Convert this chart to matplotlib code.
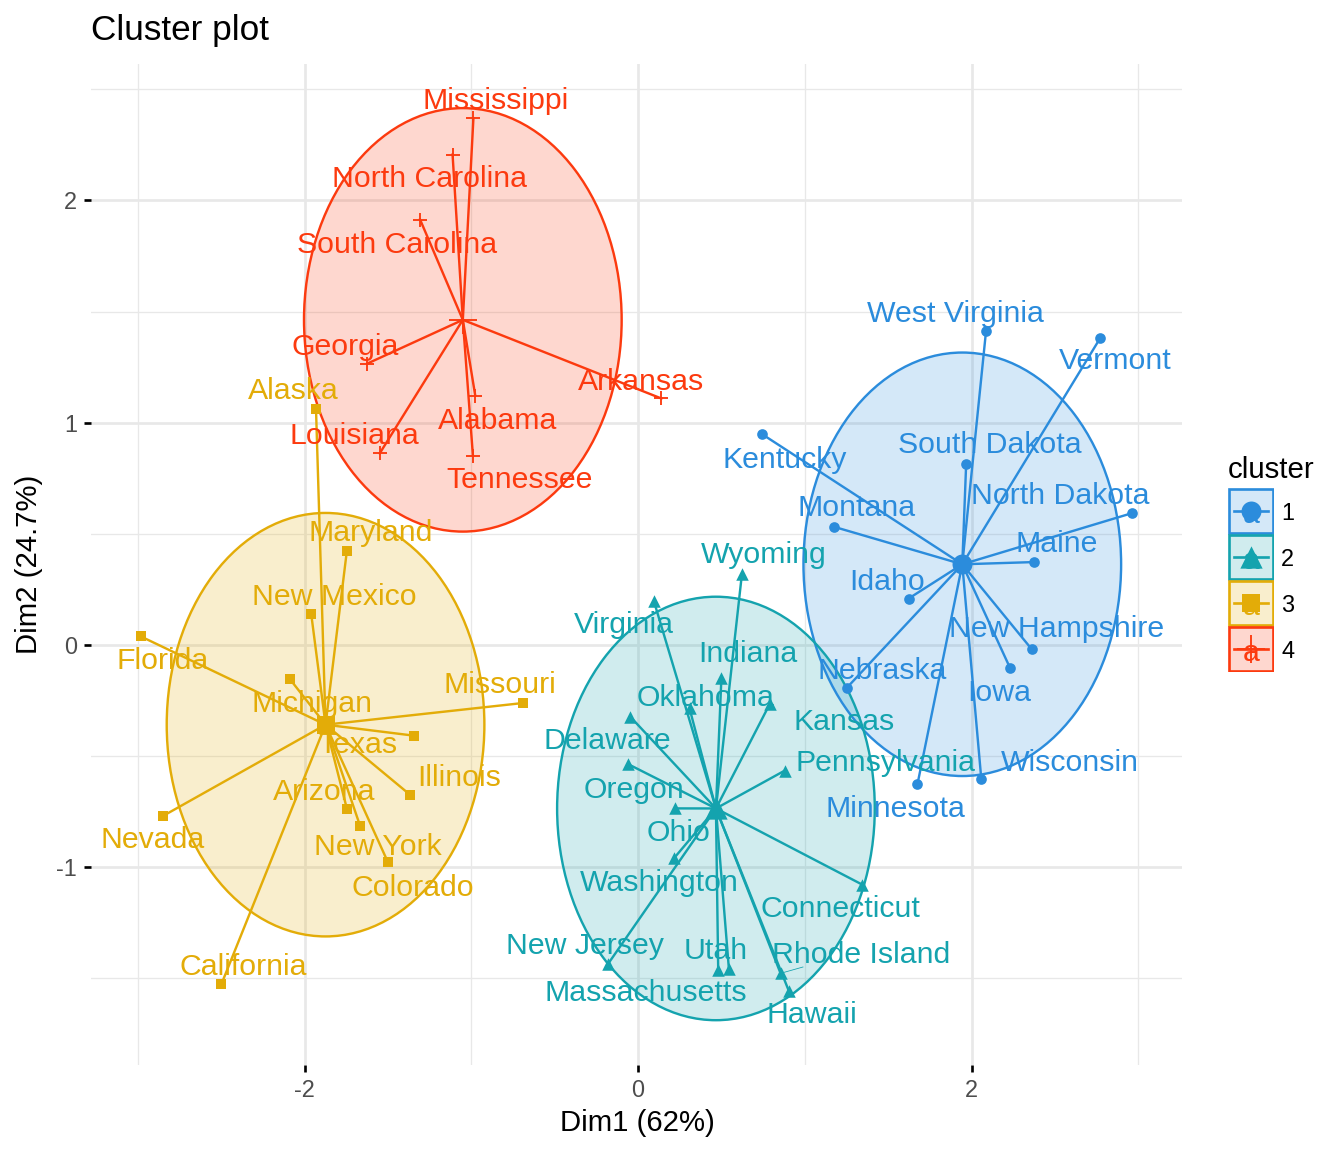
##### Import modules #####
import numpy as np
import matplotlib.pyplot as plt
from matplotlib.patches import Ellipse, Rectangle

plt.rcParams['font.family'] = ['Liberation Sans', 'DejaVu Sans']

##### Data #####
states_1 = ['West Virginia', 'Vermont', 'South Dakota', 'Kentucky', 'North Dakota', 'Montana', 'Maine',
            'Idaho', 'New Hampshire', 'Iowa', 'Nebraska', 'Minnesota', 'Wisconsin']
dim1_1 = [2.087, 2.773, 1.968, 0.743, 2.962, 1.174, 2.373, 1.623, 2.360, 2.231, 1.253, 1.676, 2.059]
dim2_1 = [1.411, 1.382, 0.815, 0.949, 0.593, 0.532, 0.373, 0.209, -0.018, -0.103, -0.192, -0.626, -0.605]

states_2 = ['Wyoming', 'Virginia', 'Indiana', 'Oklahoma', 'Kansas', 'Delaware', 'Pennsylvania', 'Oregon',
            'Ohio', 'Washington', 'Connecticut', 'New Jersey', 'Utah', 'Rhode Island', 'Massachusetts', 'Hawaii']
dim1_2 = [0.623, 0.095, 0.500, 0.309, 0.789, -0.047, 0.880, -0.059, 0.224, 0.215, 1.345, -0.180, 0.545,
          0.855, 0.481, 0.904]
dim2_2 = [0.318, 0.198, -0.150, -0.285, -0.267, -0.322, -0.565, -0.536, -0.735, -0.960, -1.078, -1.435,
          -1.456, -1.477, -1.460, -1.555]

states_3 = ['Alaska', 'Maryland', 'New Mexico', 'Florida', 'Michigan', 'Missouri', 'Texas', 'Illinois',
            'Arizona', 'Nevada', 'New York', 'Colorado', 'California']
dim1_3 = [-1.931, -1.746, -1.960, -2.983, -2.087, -0.690, -1.342, -1.365, -1.745, -2.846, -1.666, -1.499, -2.499]
dim2_3 = [1.062, 0.423, 0.141, 0.039, -0.154, -0.261, -0.408, -0.675, -0.739, -0.768, -0.815, -0.978, -1.527]

states_4 = ['Mississippi', 'North Carolina', 'South Carolina', 'Georgia', 'Arkansas', 'Alabama', 'Louisiana',
            'Tennessee']
dim1_4 = [-0.987, -1.112, -1.307, -1.623, 0.140, -0.976, -1.549, -0.990]
dim2_4 = [2.370, 2.206, 1.914, 1.266, 1.109, 1.122, 0.862, 0.852]

cluster_names = ['1', '2', '3', '4']

##### Layout (reference pixels) #####
label_px_1 = [(955, 312), (1115, 359), (990, 443), (785, 458), (1060, 494), (857, 506), (1057, 542),
              (887, 580), (1057, 627), (999, 691), (882, 669), (895, 807), (1070, 761)]
label_px_2 = [(764, 553), (624, 623), (748, 652), (706, 696), (844, 720), (607, 739), (885, 761), (634, 788),
              (679, 831), (659, 881), (840, 907), (585, 944), (716, 949), (861, 953), (646, 991), (812, 1013)]
label_px_3 = [(293, 389), (371, 531), (334, 595), (163, 659), (312, 702), (500, 683), (358, 743), (459, 776),
              (324, 790), (153, 838), (378, 845), (413, 886), (243, 965)]
label_px_4 = [(496, 99), (430, 177), (397, 243), (345, 345), (641, 380), (498, 419), (354, 434), (520, 478)]

colors = ['#2B8CDC', '#14A3AE', '#E3AC08', '#FC3A0F']
markers = ['o', '^', 's', '+']
point_size = [16, 22, 15, 30]
center_size = [56, 70, 48, 110]
W, H = 1344, 1152
left, right, top, bottom = 91, 1182, 64, 1065
x0, xs = 638, 166.75
y0, ys = 645, 222.3


def px_x(p):
    return (p - x0) / xs


def px_y(p):
    return (y0 - p) / ys


##### Plot #####
fig = plt.figure(figsize=(7, 6), dpi=192)
ax = fig.add_axes([left / W, 1 - bottom / H, (right - left) / W, (bottom - top) / H])
ax.set_xlim(px_x(left), px_x(right))
ax.set_ylim(px_y(bottom), px_y(top))

for s in ax.spines.values():
    s.set_visible(False)
ax.set_axisbelow(True)
ax.set_xticks([-2, 0, 2])
ax.set_yticks([-1, 0, 1, 2])
ax.set_xticks([-3, -1, 1, 3], minor=True)
ax.set_yticks([-1.5, -0.5, 0.5, 1.5, 2.5], minor=True)
ax.grid(which='major', color='#e8e8e8', lw=1.0)
ax.grid(which='minor', color='#e8e8e8', lw=0.5)
ax.tick_params(which='major', length=2.7, width=1.0, color='black', labelcolor='#4d4d4d', labelsize=8.8, pad=2.5)
ax.tick_params(which='minor', length=0)
ax.set_xticklabels(['-2', '0', '2'])
ax.set_yticklabels(['-1', '0', '1', '2'])

groups = [(states_1, dim1_1, dim2_1, label_px_1), (states_2, dim1_2, dim2_2, label_px_2),
          (states_3, dim1_3, dim2_3, label_px_3), (states_4, dim1_4, dim2_4, label_px_4)]

for i, (names, xv, yv, lab) in enumerate(groups):
    col = colors[i]
    cx, cy = np.mean(xv), np.mean(yv)
    ax.add_patch(Ellipse((cx, cy), 1.905, 1.905, fc=col, alpha=0.2, lw=0, zorder=2))
    ax.add_patch(Ellipse((cx, cy), 1.905, 1.905, fc='none', ec=col, lw=0.9, zorder=3))
    for a, b in zip(xv, yv):
        ax.plot([cx, a], [cy, b], color=col, lw=0.9, zorder=4)
    lw = 0.7 if markers[i] == '+' else 0
    ax.scatter(xv, yv, marker=markers[i], s=point_size[i], color=col, linewidths=lw, zorder=5)
    ax.scatter([cx], [cy], marker=markers[i], s=center_size[i], color=col, linewidths=lw, zorder=5)
    for name, (px, py) in zip(names, lab):
        ax.text(px_x(px), px_y(py + 2), name, color=col, fontsize=11.35, ha='center', va='center', zorder=6)

# repel segment for Rhode Island
ax.plot([dim1_2[13], px_x(803)], [dim2_2[13], px_y(967)], color=colors[1], lw=0.3, zorder=4)

fig.text(91 / W, 1 - 40 / H, 'Cluster plot', fontsize=13.2, color='black', ha='left', va='baseline')
fig.text(637 / W, 1 - 1123 / H, 'Dim1 (62%)', fontsize=11, color='black', ha='center', va='center')
fig.text(29 / W, 1 - 564 / H, 'Dim2 (24.7%)', fontsize=11, color='black', ha='center', va='center', rotation=90)

##### Legend #####
lax = fig.add_axes([1228 / W, 1 - 672 / H, 46 / W, 184 / H])
lax.set_xlim(0, 1)
lax.set_ylim(4, 0)
lax.axis('off')
for i, col in enumerate(colors):
    lax.add_patch(Rectangle((0.03, i + 0.02), 0.94, 0.96, fc=col, alpha=0.2, lw=0))
    lax.add_patch(Rectangle((0.03, i + 0.02), 0.94, 0.96, fc='none', ec=col, lw=1.0))
    lax.plot([0.13, 0.87], [i + 0.5, i + 0.5], color=col, lw=1.0)
    lax.text(0.5, i + 0.58, 'a', color=col, fontsize=11.35, ha='center', va='center')
    lw = 0.7 if markers[i] == '+' else 0
    lax.scatter([0.5], [i + 0.5], marker=markers[i], s=center_size[i], color=col, linewidths=lw, zorder=5)
    fig.text(1281 / W, 1 - (513 + 46 * i) / H, cluster_names[i], fontsize=8.8, ha='left', va='center')
fig.text(1228 / W, 1 - 470 / H, 'cluster', fontsize=11, ha='left', va='center')

fig.savefig('out.png', dpi=192)
